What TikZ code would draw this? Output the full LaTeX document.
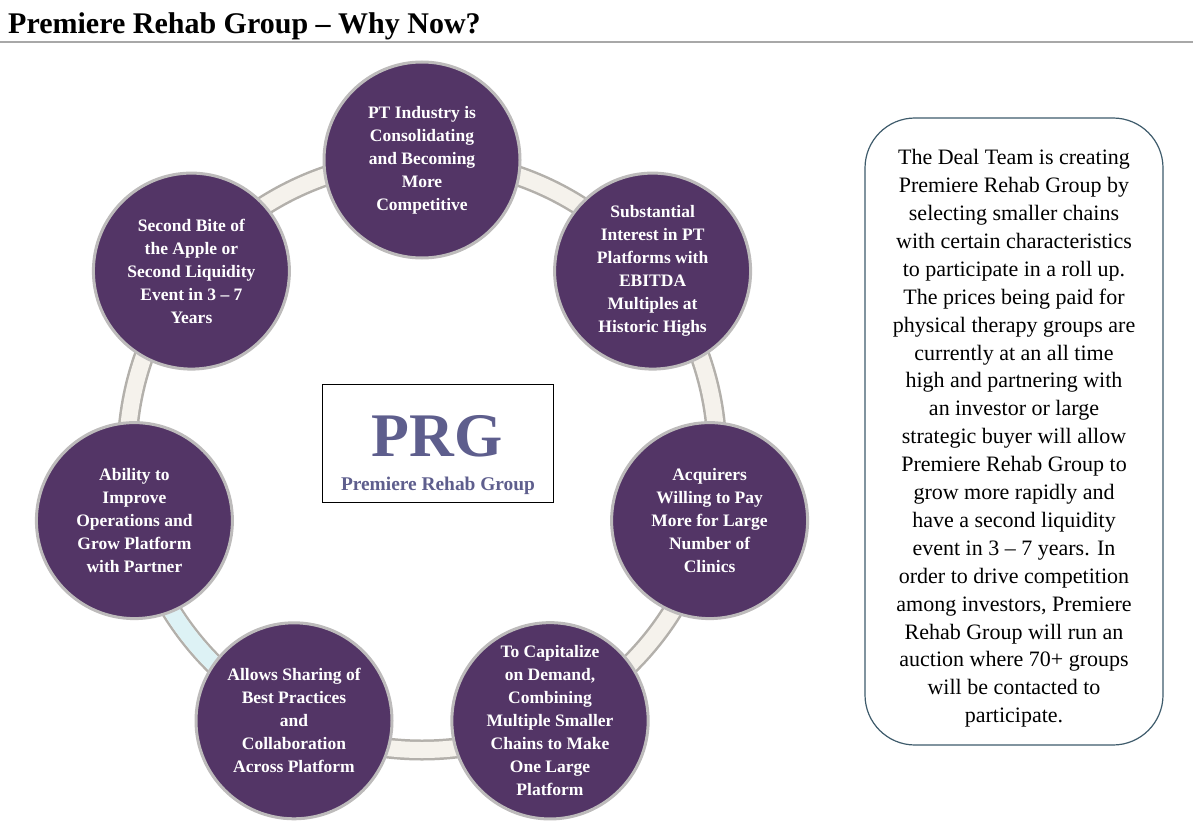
\documentclass[tikz,border=0pt]{standalone}
\usepackage{fontspec}
\setmainfont{Liberation Serif}
\usetikzlibrary{positioning}

\definecolor{plum}{HTML}{533566}
\definecolor{rimgray}{HTML}{BDBBBB}
\definecolor{tube}{HTML}{F5F2EC}
\definecolor{tubeedge}{HTML}{B3B0AB}
\definecolor{tubecyan}{HTML}{DDF2F5}
\definecolor{prgblue}{HTML}{5E5E8D}
\definecolor{boxedge}{HTML}{3E5B6B}
\definecolor{titlerule}{HTML}{A8A8A8}

\begin{document}
\begin{tikzpicture}[x=1pt,y=-1pt]
	\tikzset{reason/.style={circle, fill=plum, draw=rimgray, line width=3pt, minimum size=196pt, inner sep=0pt, text=white, align=center, font=\bfseries\fontsize{17.5}{23}\selectfont}}
	\useasboundingbox (0,0) rectangle (1193,821);

	% title
	\node[anchor=base west, inner sep=0pt, font=\bfseries\fontsize{30}{32}\selectfont] (title) at (8,34) {Premiere Rehab Group – Why Now?};
	\draw[titlerule, line width=1.5pt] (0,42) -- (1193,42);

	% ring behind the circles
	\coordinate (hub) at (422,455);
	\draw[tubeedge, line width=21pt] (hub) circle[radius=295];
	\draw[tube, line width=16pt] (hub) circle[radius=295];
	\draw[tubecyan, line width=16pt] (hub) ++(167.14:295) arc[start angle=167.14, end angle=115.71, radius=295];

	\node[reason] (industry) at (422,160) {PT Industry is\\Consolidating\\and Becoming\\More\\Competitive};
	\node[reason] (interest) at (652.6,271.1) {Substantial\\Interest in PT\\Platforms with\\EBITDA\\Multiples at\\Historic Highs};
	\node[reason] (acquirers) at (709.6,520.6) {Acquirers\\Willing to Pay\\More for Large\\Number of\\Clinics};
	\node[reason] (capitalize) at (550,720.8) {To Capitalize\\on Demand,\\Combining\\Multiple Smaller\\Chains to Make\\One Large\\Platform};
	\node[reason] (sharing) at (294,720.8) {Allows Sharing of\\Best Practices\\and\\Collaboration\\Across Platform};
	\node[reason] (ability) at (134.4,520.6) {Ability to\\Improve\\Operations and\\Grow Platform\\with Partner};
	\node[reason] (secondbite) at (191.4,271.1) {Second Bite of\\the Apple or\\Second Liquidity\\Event in 3 – 7\\Years};

	% logo box
	\node[draw, line width=0.8pt, minimum width=231pt, minimum height=118pt] (logo) at (437.5,443) {};
	\node[text=prgblue, font=\bfseries\fontsize{62}{62}\selectfont] (prg) at (437,436) {PRG};
	\node[text=prgblue, font=\bfseries\fontsize{19.4}{22}\selectfont] (prgname) at (438,486) {Premiere Rehab Group};

	% deal team text
	\node[draw=boxedge, line width=1.2pt, rounded corners=50pt, minimum width=298pt, minimum height=627pt, align=center, font=\fontsize{22}{27.9}\selectfont] (dealteam) at (1014,431.5) {};
	\node[align=center, font=\fontsize{22}{27.9}\selectfont] (dealtext) at (1014,438.5) {The Deal Team is creating\\Premiere Rehab Group by\\selecting smaller chains\\with certain characteristics\\to participate in a roll up.\\The prices being paid for\\physical therapy groups are\\currently at an all time\\high and partnering with\\an investor or large\\strategic buyer will allow\\Premiere Rehab Group to\\grow more rapidly and\\have a second liquidity\\event in 3 – 7 years. In\\order to drive competition\\among investors, Premiere\\Rehab Group will run an\\auction where 70+ groups\\will be contacted to\\participate.};
\end{tikzpicture}
\end{document}
